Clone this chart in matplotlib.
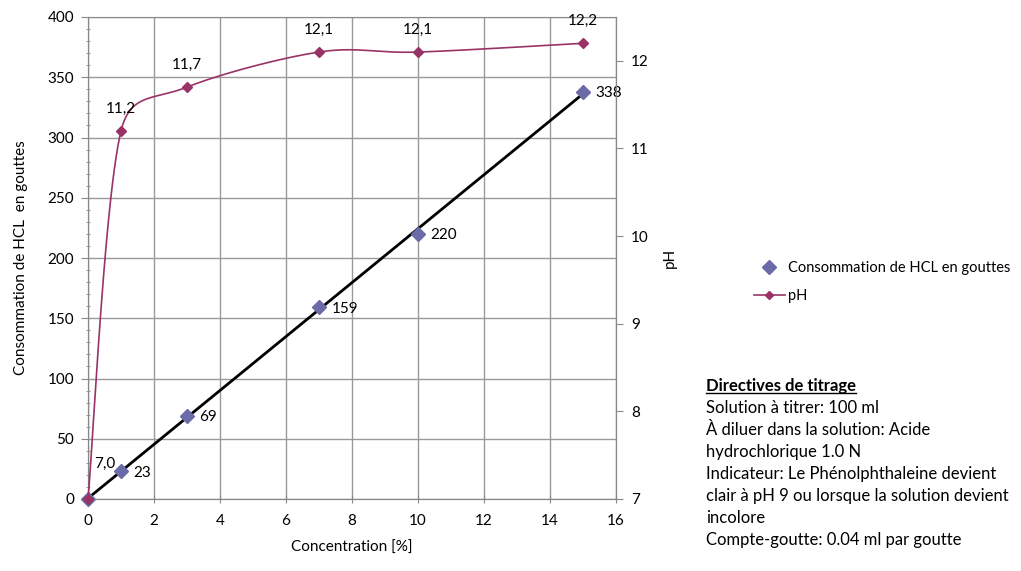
import numpy as np
import matplotlib
matplotlib.use("Agg")
import matplotlib.pyplot as plt
from matplotlib.lines import Line2D
from matplotlib.ticker import MultipleLocator

plt.rcParams['font.family'] = ['Lato', 'DejaVu Sans']

# ---- data ----
concentration = [0, 1, 3, 7, 10, 15]
hcl_drops = [0, 23, 69, 159, 220, 338]
ph_values = [7.0, 11.2, 11.7, 12.1, 12.1, 12.2]
ph_labels = ["7,0", "11,2", "11,7", "12,1", "12,1", "12,2"]
x_ticks = [0, 2, 4, 6, 8, 10, 12, 14, 16]
y_ticks = [0, 50, 100, 150, 200, 250, 300, 350, 400]
ph_ticks = [7, 8, 9, 10, 11, 12]
legend_labels = ["Consommation de HCL en gouttes", "pH"]
notes_title = "Directives de titrage"
notes_lines = [
    "Solution à titrer: 100 ml",
    "À diluer dans la solution: Acide",
    "hydrochlorique 1.0 N",
    "Indicateur: Le Phénolphthaleine devient",
    "clair à pH 9 ou lorsque la solution devient",
    "incolore",
    "Compte-goutte: 0.04 ml par goutte",
]

# ---- style ----
C_HCL = "#6B6BA8"
C_PH = "#993366"
C_AX = "#888888"
FS = 11
FS_NOTE = 12

fig = plt.figure(figsize=(10.21, 5.71), dpi=100)
ax = fig.add_axes([88 / 1021, 72 / 571, 528 / 1021, 482 / 571])
ax2 = ax.twinx()

ax.set_xlim(0, 16)
ax.set_ylim(0, 400)
ax2.set_ylim(7, 12.5)
ax.set_xticks(x_ticks)
ax.set_yticks(y_ticks)
ax2.set_yticks(ph_ticks)
ax.yaxis.set_minor_locator(MultipleLocator(10))

ax.grid(True, which='major', color="#999999", linewidth=1)
ax.set_axisbelow(True)
for a in (ax, ax2):
    for s in a.spines.values():
        s.set_color(C_AX)
ax2.spines['top'].set_visible(False)
ax.tick_params(axis='both', which='major', color=C_AX, length=5, labelsize=FS, pad=5)
ax.tick_params(axis='y', which='minor', color=C_AX, length=3, direction='inout')
ax.tick_params(axis='x', which='major', direction='inout', length=6, pad=8)
ax2.tick_params(axis='y', color=C_AX, length=5, labelsize=FS, pad=6)

ax.set_xlabel("Concentration [%]", fontsize=FS, labelpad=9)
ax.set_ylabel("Consommation de HCL  en gouttes", fontsize=FS, labelpad=14)
ax2.set_ylabel("pH", fontsize=FS, labelpad=10)

# trend line (linear least squares)
xa = np.array(concentration, float)
ya = np.array(hcl_drops, float)
slope, intercept = np.polyfit(xa, ya, 1)
xt = np.array([xa.min(), xa.max()])
ax.plot(xt, slope * xt + intercept, color="black", linewidth=2, zorder=3)

# HCL points
ax.plot(concentration, hcl_drops, linestyle='none', marker='D', markersize=7,
        color=C_HCL, zorder=4, clip_on=False)
for x, y in zip(concentration[1:], hcl_drops[1:]):
    ax.annotate(str(y), (x, y), xytext=(9, -1), textcoords='offset points',
                ha='left', va='center', fontsize=FS)

# smooth pH curve (Excel-like Bezier smoothing in display space)
fig.canvas.draw()
pts = ax2.transData.transform(np.column_stack([concentration, ph_values]))
n = len(pts)
curve = []
for i in range(n - 1):
    p0 = pts[max(i - 1, 0)]
    p1 = pts[i]
    p2 = pts[i + 1]
    p3 = pts[min(i + 2, n - 1)]
    d12 = np.hypot(*(p2 - p1))
    d02 = np.hypot(*(p2 - p0))
    d13 = np.hypot(*(p3 - p1))
    f1 = 1 / 6 if d02 / 6 < d12 / 2 else d12 / (2 * d02)
    f2 = 1 / 6 if d13 / 6 < d12 / 2 else d12 / (2 * d13)
    c1 = p1 + f1 * (p2 - p0)
    c2 = p2 - f2 * (p3 - p1)
    t = np.linspace(0, 1, 50)[:, None]
    seg = ((1 - t) ** 3) * p1 + 3 * ((1 - t) ** 2) * t * c1 + 3 * (1 - t) * t ** 2 * c2 + t ** 3 * p2
    curve.append(seg if i == 0 else seg[1:])
curve = np.vstack(curve)
curve_data = ax2.transData.inverted().transform(curve)
ax2.plot(curve_data[:, 0], curve_data[:, 1], color=C_PH, linewidth=1.2, zorder=3, clip_on=False)
ax2.plot(concentration, ph_values, linestyle='none', marker='D', markersize=5,
         color=C_PH, zorder=5, clip_on=False)
for i, (x, y, lab) in enumerate(zip(concentration, ph_values, ph_labels)):
    dx, dy = (12, 20) if i == 0 else (0, 11)
    ax2.annotate(lab, (x, y), xytext=(dx, dy), textcoords='offset points',
                 ha='center', va='bottom', fontsize=FS)

# legend
handles = [
    Line2D([], [], linestyle='none', marker='D', markersize=7, color=C_HCL),
    Line2D([], [], color=C_PH, linewidth=1.2, marker='D', markersize=4),
]
fig.legend(handles, legend_labels, loc='center left',
           bbox_to_anchor=(741 / 1021, 289 / 571), frameon=False, fontsize=10.5,
           handlelength=2.1, handletextpad=0.25, labelspacing=1.0)

# notes block
x0 = 706 / 1021
y0 = 386 / 571
step = 22 / 571
t = fig.text(x0, 1 - y0, notes_title, fontsize=FS_NOTE, fontweight='bold', va='center', ha='left')
fig.canvas.draw()
bb = t.get_window_extent().transformed(fig.transFigure.inverted())
fig.add_artist(Line2D([bb.x0, bb.x1], [bb.y0 + 0.001, bb.y0 + 0.001],
                      transform=fig.transFigure, color='black', linewidth=1))
for k, line in enumerate(notes_lines):
    fig.text(x0, 1 - y0 - (k + 1) * step, line, fontsize=FS_NOTE, va='center', ha='left')

fig.savefig("out.png", dpi=100)
